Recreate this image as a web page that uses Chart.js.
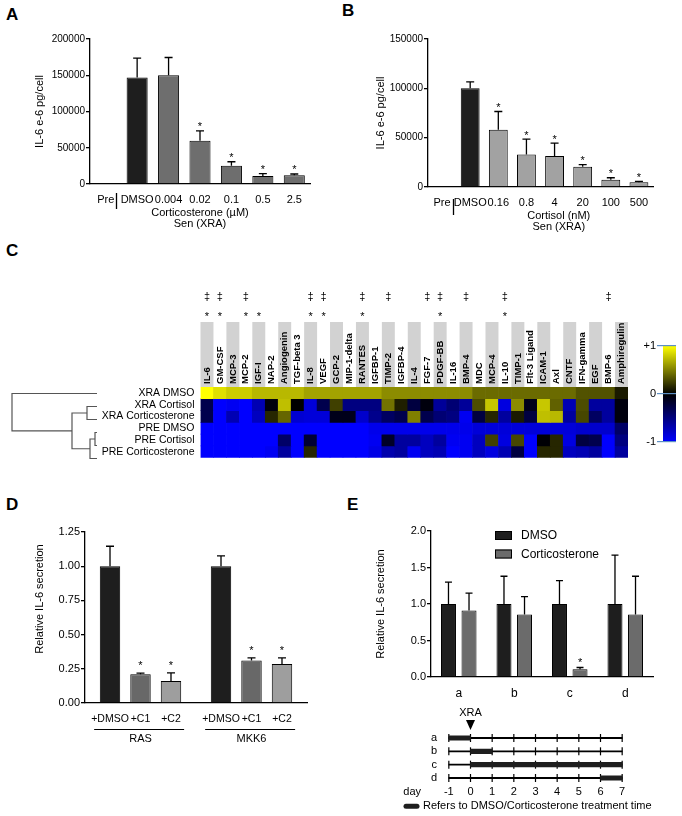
<!DOCTYPE html>
<html>
<head>
<meta charset="utf-8">
<script src="https://cdn.jsdelivr.net/npm/chart.js@4.4.1/dist/chart.umd.min.js"></script>
<style>
  body { margin: 0; background: #fff; }
  #page { position: relative; width: 682px; height: 816px; overflow: hidden; font-family: 'Liberation Sans', Arial, sans-serif; }
  #page canvas { position: absolute; }
  .tag { position: absolute; font-weight: bold; font-size: 17px; line-height: 17px; color: #000; }
</style>
</head>
<body>
<div id="page">
  <div class="tag" style="left:6px;top:6px">A</div>
  <div class="tag" style="left:342px;top:2px">B</div>
  <div class="tag" style="left:6px;top:242px">C</div>
  <div class="tag" style="left:6px;top:496px">D</div>
  <div class="tag" style="left:347px;top:496px">E</div>

  <canvas id="cA" width="341" height="232" style="left:0;top:0"></canvas>
  <canvas id="cB" width="341" height="232" style="left:341px;top:0"></canvas>
  <canvas id="cDen" width="105" height="92" style="left:0;top:380px"></canvas>
  <canvas id="cHeat" width="560" height="185" style="left:80px;top:285px"></canvas>
  <canvas id="cScale" width="57" height="116" style="left:625px;top:336px"></canvas>
  <canvas id="cD" width="341" height="255" style="left:0;top:490px"></canvas>
  <canvas id="cE" width="341" height="215" style="left:341px;top:490px"></canvas>
  <canvas id="cT" width="341" height="111" style="left:341px;top:705px"></canvas>
</div>
<script>
const FONT = "'Liberation Sans', Arial, sans-serif";
const INK = '#1e1e1e';

Chart.defaults.font.family = FONT;
Chart.defaults.font.size = 11;
Chart.defaults.color = '#000';
Chart.defaults.animation = false;
Chart.defaults.responsive = false;
Chart.defaults.plugins.legend.display = false;
Chart.defaults.plugins.tooltip.enabled = false;

// ===== DATA =====

// A: corticosterone dose (uM)
const dosesA = ['Pre', 'DMSO', '0.004', '0.02', '0.1', '0.5', '2.5'];
const il6A = [800, 147000, 150000, 59500, 25200, 11000, 11900];
const il6ErrA = [0, 26500, 24500, 13900, 5500, 3200, 1900];
const sigA = [0, 0, 0, 1, 1, 1, 1];
const ticksA = [0, 50000, 100000, 150000, 200000];

// B: cortisol dose (nM)
const dosesB = ['Pre', 'DMSO', '0.16', '0.8', '4', '20', '100', '500'];
const il6B = [600, 100000, 58000, 33000, 31300, 20600, 7400, 4700];
const il6ErrB = [0, 6500, 18500, 15500, 13200, 2000, 2000, 1000];
const sigB = [0, 0, 1, 1, 1, 1, 1, 1];
const ticksB = [0, 50000, 100000, 150000];

// C: heatmap
const proteins = ['IL-6', 'GM-CSF', 'MCP-3', 'MCP-2', 'IGF-I', 'NAP-2', 'Angiogenin', 'TGF-beta 3',
  'IL-8', 'VEGF', 'GCP-2', 'MIP-1-delta', 'RANTES', 'IGFBP-1', 'TIMP-2', 'IGFBP-4', 'IL-4', 'FGF-7',
  'PDGF-BB', 'IL-16', 'BMP-4', 'MDC', 'MCP-4', 'IL-10', 'TIMP-1', 'Flt-3 Ligand', 'ICAM-1', 'Axl',
  'CNTF', 'IFN-gamma', 'EGF', 'BMP-6', 'Amphiregulin'];
const samples = ['XRA DMSO', 'XRA Cortisol', 'XRA Corticosterone', 'PRE DMSO', 'PRE Cortisol', 'PRE Corticosterone'];
const heat = [
  [1.0, 0.88, 0.8, 0.8, 0.72, 0.72, 0.72, 0.72, 0.64, 0.64, 0.64, 0.64, 0.64, 0.64, 0.55, 0.55, 0.55,
   0.55, 0.55, 0.55, 0.55, 0.42, 0.42, 0.42, 0.42, 0.42, 0.42, 0.42, 0.42, 0.32, 0.32, 0.32, 0.1],
  [-0.3, -1, -0.95, -1, -0.7, -0.05, 0.75, 0, -0.85, -0.3, 0.25, -0.5, -0.5, -0.5, 0.45, 0.12, -0.25,
   -0.05, -0.6, -0.45, -0.6, 0.3, 0.78, -0.88, 0.55, -0.1, 0.78, 0.38, -0.7, 0.3, -0.62, -0.62, -0.05],
  [-0.3, -1, -0.7, -1, -0.75, 0.15, 0.4, -0.82, -0.85, -0.85, -0.1, -0.1, -0.8, -0.55, -0.38, -0.3, 0.5,
   -0.3, -0.45, -0.5, -0.95, -0.25, 0.15, -0.62, 0.1, -0.25, 0.75, 0.72, -0.62, 0.28, -0.38, -0.62, -0.05],
  [-1, -1, -1, -1, -1, -1, -1, -1, -1, -1, -1, -1, -1, -0.92, -0.92, -0.92, -0.92, -0.92, -0.92, -0.92,
   -0.92, -0.85, -0.85, -0.85, -0.85, -0.85, -0.85, -0.85, -0.85, -0.8, -0.8, -0.8, -0.4],
  [-1, -1, -1, -1, -1, -1, -0.4, -1, -0.2, -1, -1, -1, -1, -0.95, -0.15, -0.62, -0.62, -0.75, -0.62,
   -0.95, -0.95, -0.75, 0.25, -0.88, 0.28, -1, -0.02, 0.15, -0.88, -0.25, -0.3, -1, -0.5],
  [-1, -1, -1, -1, -1, -0.95, -0.62, -1, 0.15, -1, -1, -1, -1, -0.9, -0.68, -0.62, -0.95, -0.75, -0.7,
   -1, -0.95, -0.75, -0.88, -0.7, -0.25, -1, 0.15, 0.15, -0.75, -0.7, -0.62, -1, -0.62]
];
const daggerCols = [0, 1, 3, 8, 9, 12, 14, 17, 18, 20, 23, 31];
const starCols = [0, 1, 3, 4, 8, 9, 12, 18, 23];
const scaleTicks = [-1, 0, 1];
// dendrogram merges: [node, node, height]; leaves are 0-5, new nodes numbered from 6
const merges = [[1, 2, 10], [3, 4, 2], [7, 5, 7], [6, 8, 25], [0, 9, 85]];

// D: relative IL-6, RAS / MKK6
const groupsD = ['RAS', 'MKK6'];
const treatD = ['+DMSO', '+C1', '+C2'];
const relD = [[1.00, 0.21, 0.16], [1.00, 0.31, 0.285]];
const relErrD = [[0.146, 0.009, 0.06], [0.075, 0.02, 0.045]];
const sigD = [[0, 1, 1], [0, 1, 1]];
const ticksD = [0, 0.25, 0.5, 0.75, 1.0, 1.25];

// E: treatment schedules
const schedules = ['a', 'b', 'c', 'd'];
const dmsoE = [1.0, 1.0, 1.0, 1.0];
const dmsoErrE = [0.30, 0.38, 0.32, 0.67];
const cortE = [0.91, 0.855, 0.105, 0.855];
const cortErrE = [0.24, 0.245, 0.025, 0.525];
const sigE = [0, 0, 1, 0];
const ticksE = [0, 0.5, 1.0, 1.5, 2.0];
const days = [-1, 0, 1, 2, 3, 4, 5, 6, 7];
const treatWindows = [[-1, 0], [0, 1], [0, 7], [6, 7]];

// ===== HELPERS =====

function put(ctx, text, x, y, font, align, baseline, angle) {
  ctx.save();
  ctx.font = font;
  ctx.fillStyle = '#000';
  ctx.textAlign = align || 'center';
  ctx.textBaseline = baseline || 'middle';
  ctx.translate(x, y);
  if (angle) ctx.rotate(angle);
  ctx.fillText(text, 0, 0);
  ctx.restore();
}

function heatColor(v) {
  const k = Math.max(-1, Math.min(1, v));
  if (k >= 0) {
    const c = Math.round(255 * k);
    return 'rgb(' + c + ',' + c + ',0)';
  }
  return 'rgb(0,0,' + Math.round(-255 * k) + ')';
}

function fixedTicks(list) {
  return s => { s.ticks = list.map(v => ({ value: v })); };
}

function valueAxis(list, digits, title, width, size) {
  return {
    min: list[0],
    max: list[list.length - 1],
    afterBuildTicks: fixedTicks(list),
    ticks: { padding: 1, autoSkip: false, font: { size: size }, callback: v => digits ? v.toFixed(digits) : String(v) },
    grid: { drawOnChartArea: false, tickLength: 4, color: '#000', lineWidth: 1.3 },
    border: { color: '#000', width: 1.3 },
    title: { display: !!title, text: title, font: { size: 11 } },
    afterFit: s => { s.width = width; }
  };
}

function baseAxis(height, size, padding) {
  return {
    grid: { display: false, drawTicks: false },
    border: { color: '#000', width: 1.3 },
    ticks: { padding: padding, autoSkip: false, maxRotation: 0, font: { size: size } },
    afterFit: s => { s.height = height; }
  };
}

// upper error whiskers + significance stars
Chart.register({
  id: 'errorBars',
  afterDatasetsDraw(chart, args, opts) {
    const ctx = chart.ctx;
    const y = chart.scales.y;
    chart.data.datasets.forEach((ds, di) => {
      if (!ds.errors) return;
      chart.getDatasetMeta(di).data.forEach((bar, i) => {
        const raw = ds.data[i];
        const v = typeof raw === 'object' ? raw.y : raw;
        const top = y.getPixelForValue(v + ds.errors[i]);
        ctx.save();
        ctx.strokeStyle = '#000';
        ctx.lineWidth = 1.3;
        if (ds.errors[i] > 0) {
          ctx.beginPath();
          ctx.moveTo(bar.x, bar.y);
          ctx.lineTo(bar.x, top);
          ctx.moveTo(bar.x - opts.cap, top);
          ctx.lineTo(bar.x + opts.cap, top);
          ctx.stroke();
        }
        ctx.restore();
        if (ds.stars && ds.stars[i]) {
          put(ctx, '*', bar.x, top - opts.starGap + 0.585 * 11, '11px ' + FONT, 'center', 'alphabetic');
        }
      });
    });
  }
});

// ===== A & B =====

function dosePanel(id, doses, vals, errs, sig, ticks, doseColor, area, caption, captionAt, sepAt, sepTop) {
  return new Chart(document.getElementById(id), {
    type: 'bar',
    data: {
      labels: doses,
      datasets: [{
        data: vals, errors: errs, stars: sig,
        backgroundColor: doses.map((d, i) => i < 2 ? INK : doseColor),
        borderColor: '#000', borderWidth: 1,
        barPercentage: 0.67, categoryPercentage: 1
      }]
    },
    options: {
      layout: { padding: { left: area.pad, top: area.top, right: area.right, bottom: 0 } },
      scales: {
        x: baseAxis(area.xh, 11, 9),
        y: valueAxis(ticks, 0, 'IL-6 e-6 pg/cell', area.yw, 10)
      },
      plugins: { errorBars: { cap: 4, starGap: 7 } }
    },
    plugins: [{
      id: 'doseNotes',
      afterDraw(chart) {
        const ctx = chart.ctx, x = chart.scales.x, b = chart.chartArea.bottom;
        const cx = x.getPixelForValue(captionAt);
        put(ctx, caption, cx, b + 29, '11px ' + FONT);
        put(ctx, 'Sen (XRA)', cx, b + 40, '11px ' + FONT);
        const sx = Math.round(x.getPixelForValue(sepAt)) + 0.5;
        ctx.save();
        ctx.strokeStyle = '#000';
        ctx.lineWidth = 1.3;
        ctx.beginPath();
        ctx.moveTo(sx, b + sepTop);
        ctx.lineTo(sx, b + sepTop + 16);
        ctx.stroke();
        ctx.restore();
      }
    }]
  });
}

dosePanel('cA', dosesA, il6A, il6ErrA, sigA, ticksA, '#6e6e6e',
  { pad: 29.4, yw: 60.6, top: 39, right: 31, xh: 48 }, 'Corticosterone (\u00b5M)', 3, 0.33, 9);
dosePanel('cB', dosesB, il6B, il6ErrB, sigB, ticksB, '#a2a2a2',
  { pad: 29.4, yw: 57.6, top: 39, right: 29, xh: 45 }, 'Cortisol (nM)', 4.15, 0.4, 12);

// ===== C: heatmap, dendrogram, colour scale =====

new Chart(document.getElementById('cHeat'), {
  type: 'bar',
  data: {
    labels: proteins,
    datasets: samples.map((s, r) => ({
      label: s,
      data: proteins.map(() => [r, r + 1]),
      backgroundColor: heat[r].map(heatColor),
      borderWidth: 0, barPercentage: 1, categoryPercentage: 1, grouped: false
    }))
  },
  options: {
    layout: { padding: { left: 0, top: 102, right: 12, bottom: 5 } },
    scales: {
      x: { display: false },
      y: {
        min: 0, max: samples.length, reverse: true,
        grid: { display: false, drawTicks: false }, border: { display: false },
        afterBuildTicks: s => { s.ticks = samples.map((n, i) => ({ value: i + 0.5 })); },
        ticks: { autoSkip: false, padding: 6, font: { size: 10.5 }, callback: v => samples[Math.floor(v)] },
        afterFit: s => { s.width = 120.5; }
      }
    }
  },
  plugins: [{
    id: 'heatNotes',
    beforeDraw(chart) {
      const ctx = chart.ctx, x = chart.scales.x, top = chart.chartArea.top;
      const w = x.getPixelForValue(1) - x.getPixelForValue(0);
      ctx.save();
      ctx.fillStyle = '#d2d2d2';
      proteins.forEach((p, c) => {
        if (c % 2 === 0) ctx.fillRect(x.getPixelForValue(c) - w / 2, top - 65, w, 65);
      });
      ctx.restore();
    },
    afterDraw(chart) {
      const ctx = chart.ctx, x = chart.scales.x, top = chart.chartArea.top;
      proteins.forEach((p, c) => {
        put(ctx, p, x.getPixelForValue(c), top - 3, 'bold 9.5px ' + FONT, 'left', 'middle', -Math.PI / 2);
      });
      daggerCols.forEach(c => put(ctx, '\u2021', x.getPixelForValue(c), top - 90, '11px ' + FONT));
      starCols.forEach(c => put(ctx, '*', x.getPixelForValue(c), top - 73 + 0.585 * 11, '11px ' + FONT, 'center', 'alphabetic'));
    }
  }]
});

function dendroSegments() {
  const nodes = samples.map((s, i) => ({ y: i, h: 0 }));
  return merges.map(([a, b, h]) => {
    const A = nodes[a], B = nodes[b];
    nodes.push({ y: (A.y + B.y) / 2, h: h });
    return [{ x: A.h, y: A.y }, { x: h, y: A.y }, { x: h, y: B.y }, { x: B.h, y: B.y }];
  });
}

new Chart(document.getElementById('cDen'), {
  type: 'scatter',
  data: {
    datasets: dendroSegments().map(seg => ({
      data: seg, showLine: true, borderColor: '#555', borderWidth: 1.2,
      pointRadius: 0, clip: false, tension: 0
    }))
  },
  options: {
    layout: { padding: { left: 0, top: 7, right: 8, bottom: 7 } },
    scales: {
      x: { display: false, min: 0, max: 97, reverse: true },
      y: { display: false, min: -0.5, max: samples.length - 0.5, reverse: true }
    }
  }
});

new Chart(document.getElementById('cScale'), {
  type: 'bar',
  data: {
    labels: [''],
    datasets: [{
      data: [[scaleTicks[0], scaleTicks[scaleTicks.length - 1]]],
      backgroundColor: c => {
        const a = c.chart.chartArea;
        if (!a) return '#000';
        const g = c.chart.ctx.createLinearGradient(0, a.bottom, 0, a.top);
        g.addColorStop(0, heatColor(-1));
        g.addColorStop(0.5, heatColor(0));
        g.addColorStop(1, heatColor(1));
        return g;
      },
      borderWidth: 0, barPercentage: 1, categoryPercentage: 1
    }]
  },
  options: {
    layout: { padding: { left: 0, top: 10, right: 6, bottom: 10 } },
    scales: {
      x: { display: false },
      y: {
        min: scaleTicks[0], max: scaleTicks[scaleTicks.length - 1],
        afterBuildTicks: fixedTicks(scaleTicks),
        ticks: { padding: 1, font: { size: 11 }, callback: v => v > 0 ? '+' + v : String(v) },
        grid: { color: '#5d8fc4', lineWidth: 1.2, tickLength: 6, z: 1 },
        border: { display: false },
        afterFit: s => { s.width = 38; }
      }
    }
  }
});

// ===== D =====

const GAP_D = 0.64;
const posD = groupsD.flatMap((g, gi) => treatD.map((t, ti) => gi * (treatD.length + GAP_D) + ti));
const labD = groupsD.flatMap(() => treatD);
const shadesD = [INK, '#686868', '#9e9e9e'];

new Chart(document.getElementById('cD'), {
  type: 'bar',
  data: {
    datasets: [{
      data: posD.map((x, i) => ({ x: x, y: relD.flat()[i] })),
      errors: relErrD.flat(),
      stars: sigD.flat(),
      backgroundColor: labD.map((t, i) => shadesD[i % treatD.length]),
      borderColor: '#000', borderWidth: 1,
      barPercentage: 0.67, categoryPercentage: 1
    }]
  },
  options: {
    layout: { padding: { left: 0, top: 42, right: 34, bottom: 0 } },
    scales: {
      x: Object.assign(baseAxis(42, 10.5, 9.5), {
        type: 'linear', offset: false,
        min: posD[0] - 0.82, max: posD[posD.length - 1] + 0.82,
        afterBuildTicks: fixedTicks(posD)
      }),
      y: valueAxis(ticksD, 2, '', 85, 11)
    },
    plugins: { errorBars: { cap: 4, starGap: 10 } }
  },
  plugins: [{
    id: 'groupNotes',
    beforeInit(chart) {
      chart.options.scales.x.ticks.callback = v => labD[posD.findIndex(p => Math.abs(p - v) < 1e-6)];
    },
    afterDraw(chart) {
      const ctx = chart.ctx, x = chart.scales.x, b = chart.chartArea.bottom;
      put(ctx, 'Relative IL-6 secretion', 40, 109, '11px ' + FONT, 'center', 'middle', -Math.PI / 2);
      groupsD.forEach((g, gi) => {
        const first = posD[gi * treatD.length], last = posD[gi * treatD.length + treatD.length - 1];
        ctx.save();
        ctx.strokeStyle = '#000';
        ctx.lineWidth = 1.2;
        ctx.beginPath();
        ctx.moveTo(x.getPixelForValue(first - 0.52), b + 26.5);
        ctx.lineTo(x.getPixelForValue(last + 0.43), b + 26.5);
        ctx.stroke();
        ctx.restore();
        put(ctx, g, x.getPixelForValue((first + last) / 2), b + 36, '11px ' + FONT);
      });
    }
  }]
});

// ===== E =====

new Chart(document.getElementById('cE'), {
  type: 'bar',
  data: {
    labels: schedules,
    datasets: [
      { label: 'DMSO', data: dmsoE, errors: dmsoErrE, backgroundColor: INK,
        borderColor: '#000', borderWidth: 1, barPercentage: 0.73, categoryPercentage: 0.74 },
      { label: 'Corticosterone', data: cortE, errors: cortErrE, stars: sigE, backgroundColor: '#6b6b6b',
        borderColor: '#000', borderWidth: 1, barPercentage: 0.73, categoryPercentage: 0.74 }
    ]
  },
  options: {
    layout: { padding: { left: 29.4, top: 41, right: 29, bottom: 0 } },
    scales: {
      x: baseAxis(28, 12, 9),
      y: valueAxis(ticksE, 1, 'Relative IL-6 secretion', 60.6, 11)
    },
    plugins: { errorBars: { cap: 3.5, starGap: 8 } }
  },
  plugins: [{
    id: 'boxLegend',
    afterDraw(chart) {
      const ctx = chart.ctx, a = chart.chartArea;
      chart.data.datasets.forEach((ds, i) => {
        const x = a.left + 64, y = a.top + i * 18.5;
        ctx.save();
        ctx.fillStyle = ds.backgroundColor;
        ctx.fillRect(x, y, 17, 9);
        ctx.strokeStyle = '#000';
        ctx.lineWidth = 1;
        ctx.strokeRect(x + 0.5, y + 0.5, 16, 8);
        ctx.restore();
        put(ctx, ds.label, x + 26, y + 5, '12px ' + FONT, 'left');
      });
    }
  }]
});

// ===== E: timeline =====

new Chart(document.getElementById('cT'), {
  type: 'bar',
  data: {
    labels: schedules,
    datasets: [
      { indexAxis: 'y', data: treatWindows, backgroundColor: INK, barThickness: 4.5, grouped: false },
      { type: 'scatter', data: schedules.flatMap(s => days.map(d => ({ x: d, y: s }))),
        pointStyle: 'line', rotation: 90, pointRadius: 4, borderColor: '#000', borderWidth: 1.2, clip: false },
      { indexAxis: 'y', data: schedules.map(() => [days[0], days[days.length - 1]]),
        backgroundColor: '#000', barThickness: 1.2, grouped: false }
    ]
  },
  options: {
    layout: { padding: { left: 0, top: 26.3, right: 49, bottom: 0 } },
    scales: {
      x: {
        type: 'linear', min: days[0], max: days[days.length - 1],
        afterBuildTicks: fixedTicks(days),
        grid: { display: false, drawTicks: false }, border: { display: false },
        ticks: { padding: 1, autoSkip: false, font: { size: 11 } },
        afterFit: s => { s.height = 31.3; }
      },
      y: {
        type: 'category', offset: true,
        grid: { display: false, drawTicks: false }, border: { display: false },
        ticks: { padding: 1, autoSkip: false, font: { size: 11 } },
        afterFit: s => { s.width = 97; }
      }
    }
  },
  plugins: [{
    id: 'timeNotes',
    afterDraw(chart) {
      const ctx = chart.ctx, x = chart.scales.x, a = chart.chartArea;
      const x0 = x.getPixelForValue(0);
      put(ctx, 'XRA', x0, 8, '11px ' + FONT);
      ctx.save();
      ctx.fillStyle = '#000';
      ctx.beginPath();
      ctx.moveTo(x0 - 4.5, 15);
      ctx.lineTo(x0 + 4.5, 15);
      ctx.lineTo(x0, 25);
      ctx.closePath();
      ctx.fill();
      ctx.strokeStyle = INK;
      ctx.lineWidth = 5;
      ctx.lineCap = 'round';
      ctx.beginPath();
      ctx.moveTo(65, a.bottom + 21.5);
      ctx.lineTo(76, a.bottom + 21.5);
      ctx.stroke();
      ctx.restore();
      put(ctx, 'day', 80, a.bottom + 7.5, '11px ' + FONT, 'right');
      put(ctx, 'Refers to DMSO/Corticosterone treatment time', 82, a.bottom + 21.5, '11px ' + FONT, 'left');
    }
  }]
});
</script>
</body>
</html>
